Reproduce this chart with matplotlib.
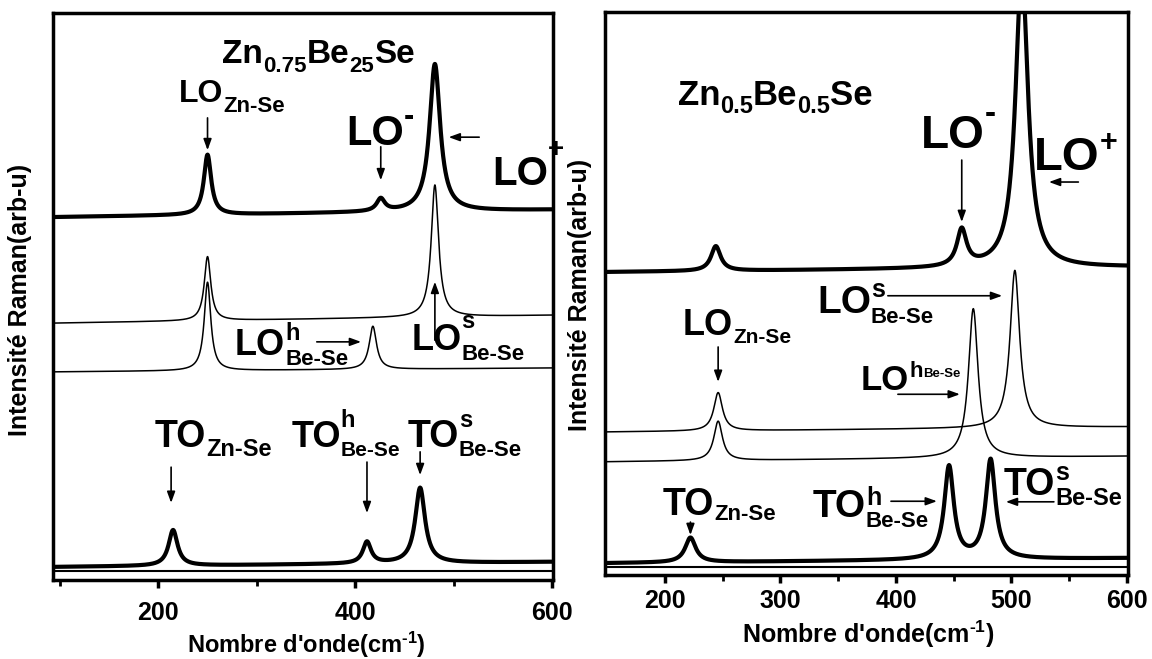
import numpy as np
import matplotlib
matplotlib.use('Agg')
import matplotlib.pyplot as plt
from matplotlib.ticker import FixedLocator, MultipleLocator

plt.rcParams['font.family'] = ['Liberation Sans', 'DejaVu Sans']
plt.rcParams['font.weight'] = 'bold'
plt.rcParams['mathtext.fontset'] = 'custom'
plt.rcParams['mathtext.rm'] = 'Liberation Sans:bold'
plt.rcParams['mathtext.it'] = 'Liberation Sans:bold'
plt.rcParams['mathtext.bf'] = 'Liberation Sans:bold'

# ---- left panel: Zn0.75Be0.25Se (baseline at left/right end, peak centre, height, FWHM)
l_xlim = (93, 601)
l_top_base = [64.0, 65.3]
l_top_pos = [250, 426, 481]
l_top_amp = [10.6, 2.2, 26.0]
l_top_fwhm = [9, 10, 13]

l_mid1_base = [45.3, 46.7]
l_mid1_pos = [250, 481]
l_mid1_amp = [11.3, 23.3]
l_mid1_fwhm = [8, 9]

l_mid2_base = [36.7, 37.4]
l_mid2_pos = [250, 418]
l_mid2_amp = [15.6, 7.6]
l_mid2_fwhm = [8, 9]

l_bot_base = [2.3, 3.2]
l_bot_pos = [215, 412, 466]
l_bot_amp = [6.3, 3.8, 13.3]
l_bot_fwhm = [11, 10, 12]

# ---- right panel: Zn0.5Be0.5Se
r_xlim = (148, 601)
r_top_base = [53.8, 54.7]
r_top_pos = [244, 457, 509]
r_top_amp = [4.4, 6.5, 53.0]
r_top_fwhm = [10, 10, 13]

r_mid1_base = [25.4, 26.3]
r_mid1_pos = [246, 503]
r_mid1_amp = [6.8, 28.0]
r_mid1_fwhm = [9, 10]

r_mid2_base = [20.1, 21.1]
r_mid2_pos = [246, 467]
r_mid2_amp = [7.0, 26.5]
r_mid2_fwhm = [9, 10]

r_bot_base = [2.1, 3.0]
r_bot_pos = [222, 446, 482]
r_bot_amp = [4.4, 16.5, 17.6]
r_bot_fwhm = [11, 10, 10]


def spectrum(x, base, pos, amp, fwhm):
    y = np.interp(x, [x[0], x[-1]], base)
    for p, a, w in zip(pos, amp, fwhm):
        y = y + a / (1 + (2 * (x - p) / w) ** 2)
    return y


def arrow(ax, x0, y0, x1, y1):
    ax.annotate('', xy=(x1, y1), xytext=(x0, y0),
                arrowprops=dict(arrowstyle='-|>,head_length=0.55,head_width=0.2',
                                color='k', lw=1.2, shrinkA=0, shrinkB=0,
                                mutation_scale=12))


def rich(ax, x, y, parts):
    # parts: (text, fontsize, vertical offset in points, advance?)
    off = 0
    for s, size, dy, adv in parts:
        t = ax.annotate(s, (x, y), xytext=(off, dy), textcoords='offset points',
                        fontsize=size, ha='left', va='baseline')
        if adv:
            off += t.get_window_extent(renderer).width * 72 / fig.dpi


def style(ax, xlim, pad):
    ax.set_xlim(*xlim)
    ax.set_ylim(0, 100)
    ax.set_yticks([])
    for sp in ax.spines.values():
        sp.set_linewidth(2.5)
    ax.tick_params(axis='x', which='major', direction='out', length=6, width=2.5,
                   labelsize=18, pad=pad)
    ax.tick_params(axis='x', which='minor', direction='out', length=4, width=2)


fig = plt.figure(figsize=(11.52, 6.59), dpi=100)
renderer = fig.canvas.get_renderer()
ax1 = fig.add_axes([53 / 1152, 79 / 659, 500 / 1152, 567 / 659])
ax2 = fig.add_axes([605 / 1152, 84 / 659, 523 / 1152, 563 / 659])

# left panel curves
x = np.linspace(l_xlim[0], l_xlim[1], 3000)
ax1.plot(x, spectrum(x, l_top_base, l_top_pos, l_top_amp, l_top_fwhm), color='k', lw=3)
ax1.plot(x, spectrum(x, l_mid1_base, l_mid1_pos, l_mid1_amp, l_mid1_fwhm), color='k', lw=1.1)
ax1.plot(x, spectrum(x, l_mid2_base, l_mid2_pos, l_mid2_amp, l_mid2_fwhm), color='k', lw=1.1)
ax1.plot(x, spectrum(x, l_bot_base, l_bot_pos, l_bot_amp, l_bot_fwhm), color='k', lw=3)
ax1.axhline(1.6, color='k', lw=1.5)
style(ax1, l_xlim, 9)
ax1.xaxis.set_major_locator(FixedLocator([200, 400, 600]))
ax1.xaxis.set_minor_locator(FixedLocator([100, 300, 500]))

rich(ax1, 265, 91.2, [('Zn', 24, 0, True), ('0.75', 16, -6.5, True), ('Be', 24, 0, True),
                      ('25', 16, -6.5, True), ('Se', 24, 0, True)])
rich(ax1, 221, 84.3, [('LO', 23, 0, True), ('Zn-Se', 16, -7, True)])
arrow(ax1, 250, 81.5, 250, 75.8)
rich(ax1, 391, 76.7, [('LO', 30, 0, True), ('-', 22, 14.5, True)])
arrow(ax1, 426, 76.4, 426, 70.5)
rich(ax1, 539, 69.7, [('LO', 29, 0, True), ('+', 20, 20, True)])
arrow(ax1, 526, 78.1, 495, 78.1)
rich(ax1, 278, 39.7, [('LO', 26, 0, True), ('h', 17, 11, False), ('Be-Se', 16, -7, True)])
arrow(ax1, 361, 42.0, 406, 42.0)
rich(ax1, 457, 40.6, [('LO', 26, 0, True), ('s', 17, 16, False), ('Be-Se', 16, -7, True)])
arrow(ax1, 481, 42.3, 481, 52.6)
rich(ax1, 196, 23.5, [('TO', 27, 0, True), ('Zn-Se', 17, -7, True)])
arrow(ax1, 213, 19.9, 213, 13.6)
rich(ax1, 335, 23.5, [('TO', 26, 0, True), ('h', 17, 14, False), ('Be-Se', 15, -7, True)])
arrow(ax1, 412, 20.8, 412, 11.8)
rich(ax1, 453, 23.5, [('TO', 27, 0, True), ('s', 17, 14, False), ('Be-Se', 16, -7, True)])
arrow(ax1, 466, 22.6, 466, 18.5)

# right panel curves
x = np.linspace(r_xlim[0], r_xlim[1], 3000)
ax2.plot(x, spectrum(x, r_top_base, r_top_pos, r_top_amp, r_top_fwhm), color='k', lw=3)
ax2.plot(x, spectrum(x, r_mid1_base, r_mid1_pos, r_mid1_amp, r_mid1_fwhm), color='k', lw=1.1)
ax2.plot(x, spectrum(x, r_mid2_base, r_mid2_pos, r_mid2_amp, r_mid2_fwhm), color='k', lw=1.1)
ax2.plot(x, spectrum(x, r_bot_base, r_bot_pos, r_bot_amp, r_bot_fwhm), color='k', lw=3)
ax2.axhline(1.4, color='k', lw=1.5)
style(ax2, r_xlim, 4)
ax2.xaxis.set_major_locator(MultipleLocator(100))
ax2.xaxis.set_minor_locator(FixedLocator([250, 350, 450, 550]))

rich(ax2, 211, 83.5, [('Zn', 25, 0, True), ('0.5', 17, -6, True), ('Be', 25, 0, True),
                      ('0.5', 17, -6, True), ('Se', 25, 0, True)])
rich(ax2, 422, 75.8, [('LO', 33, 0, True), ('-', 24, 18, True)])
arrow(ax2, 457, 73.7, 457, 62.7)
rich(ax2, 519.5, 71.9, [('LO', 34, 0, True), ('+', 22, 14, True)])
arrow(ax2, 558, 69.8, 532.5, 69.8)
rich(ax2, 331.6, 46.5, [('LO', 28, 0, True), ('s', 18, 12, False), ('Be-Se', 16, -7, True)])
arrow(ax2, 393, 49.6, 492, 49.6)
rich(ax2, 215.6, 42.6, [('LO', 26, 0, True), ('Zn-Se', 15, -6, True)])
arrow(ax2, 246, 40.5, 246, 34.3)
rich(ax2, 369.7, 32.9, [('LO', 25, 0, True), ('h', 16, 9, True), ('Be-Se', 9.5, 9, True)])
arrow(ax2, 401.7, 32.1, 455.4, 32.1)
rich(ax2, 198, 10.7, [('TO', 27, 0, True), ('Zn-Se', 16, -4, True)])
arrow(ax2, 222, 9.4, 222, 7.1)
rich(ax2, 328, 10.3, [('TO', 28, 0, True), ('h', 18, 9, False), ('Be-Se', 16, -7, True)])
arrow(ax2, 395.7, 13.1, 435.5, 13.1)
rich(ax2, 493.5, 14.2, [('TO', 27, 0, True), ('s', 18, 11, False), ('Be-Se', 17, -7, True)])
arrow(ax2, 536.8, 13.0, 495.2, 13.0)

# axis titles
fig.text(20 / 1152, 1 - 300 / 659, 'Intensité Raman(arb-u)', rotation=90,
         ha='center', va='center', fontsize=18)
fig.text(580 / 1152, 1 - 295 / 659, 'Intensité Raman(arb-u)', rotation=90,
         ha='center', va='center', fontsize=18)
fig.text(306 / 1152, 1 - 645 / 659, r"Nombre d'onde(cm$^{\text{-1}}$)",
         ha='center', va='center', fontsize=17)
fig.text(868 / 1152, 1 - 634 / 659, r"Nombre d'onde(cm$^{\text{-1}}$)",
         ha='center', va='center', fontsize=18)

fig.savefig('out.png', dpi=100)
